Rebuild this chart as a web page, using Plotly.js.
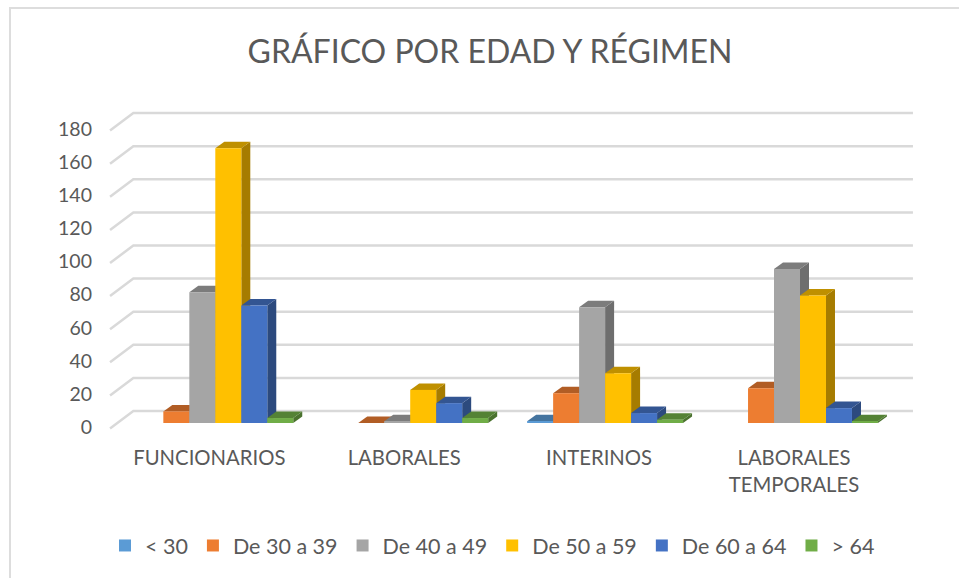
<!DOCTYPE html>
<html><head><meta charset="utf-8">
<script src="https://cdn.plot.ly/plotly-3.0.1.min.js"></script>
<style>html,body{margin:0;padding:0;background:#fff}</style></head>
<body><div id="chart" style="width:959px;height:578px"></div>
<script>
const categories = ["FUNCIONARIOS", "LABORALES", "INTERINOS", "LABORALES<br>TEMPORALES"];
const seriesNames = ["< 30", "De 30 a 39", "De 40 a 49", "De 50 a 59", "De 60 a 64", "> 64"];
const menor30 = [null, null, 1, null];
const de30a39 = [7, 0, 18, 21];
const de40a49 = [79, 1, 70, 93];
const de50a59 = [166, 20, 30, 77];
const de60a64 = [71, 12, 6, 9];
const mayor64 = [3, 3, 2, 1];
const yTicks = [0, 20, 40, 60, 80, 100, 120, 140, 160, 180];
const frontColors = ["#5B9BD5", "#ED7D31", "#A5A5A5", "#FFC000", "#4472C4", "#70AD47"];
const topColors = ["#44749F", "#B15D25", "#7C7C7C", "#BF9000", "#335592", "#548235"];
const sideColors = ["#3A6488", "#9E5321", "#6E6E6E", "#A67C00", "#2C4A7E", "#4A722E"];
const allSeries = [menor30, de30a39, de40a49, de50a59, de60a64, mayor64];

// pixel geometry of the oblique projection
const groupPx = 194.9, firstCenterPx = 215.3;   // spacing and first category in px
const L = 100, R = 930, T = 100, B = 440, Y0 = 423, PX = 1.655;
const xPerPx = 1 / groupPx, yPerPx = 1 / PX;
const xMin = (L - firstCenterPx) * xPerPx, xMax = (R - firstCenterPx) * xPerPx;
const yMin = -(B - Y0) * yPerPx, yMax = (Y0 - T) * yPerPx;
const off = (dxPx, dyPx) => [dxPx * xPerPx, -dyPx * yPerPx];
const poly = (pts) => "M" + pts.map(p => p[0] + "," + p[1]).join("L") + "Z";
const paperX = (px) => (px - L) / (R - L), paperY = (py) => (B - py) / (B - T);

const shapes = [];
// wall and floor grid: front-left -> back-left -> back-right
const [fx, fy] = off(-7.8, 5.5), [bx, by] = off(15.5, -12);
yTicks.forEach(v => {
  shapes.push({type: "path", xref: "x", yref: "y", layer: "below",
    path: "M" + (-0.5 + fx) + "," + (v + fy) + "L" + (-0.5 + bx) + "," + (v + by) + "L" + (3.5 + bx) + "," + (v + by),
    line: {color: "#D9D9D9", width: 2.5}});
});
// depth faces of the bars, painted left to right
const [dx, dy] = off(9, -6.5);
const barW = 0.8 / 6;
categories.forEach((_, c) => {
  allSeries.forEach((vals, s) => {
    const v = vals[c];
    if (v === null) return;
    const x0 = c - 0.4 + s * barW, x1 = x0 + barW;
    shapes.push({type: "path", xref: "x", yref: "y", layer: "below", line: {width: 0},
      fillcolor: sideColors[s],
      path: poly([[x1, 0], [x1 + dx, dy], [x1 + dx, v + dy], [x1, v]])});
    shapes.push({type: "path", xref: "x", yref: "y", layer: "below", line: {width: 0},
      fillcolor: topColors[s],
      path: poly([[x0, v], [x1, v], [x1 + dx, v + dy], [x0 + dx, v + dy]])});
  });
});
// chart frame: only the top and left edges show in the picture
[[paperX(9), paperY(8), paperX(959), paperY(8)], [paperX(10), paperY(8), paperX(10), paperY(578)]].forEach(l => {
  shapes.push({type: "line", xref: "paper", yref: "paper", layer: "below",
    x0: l[0], y0: l[1], x1: l[2], y1: l[3], line: {color: "#DDDDDD", width: 2}});
});

const traces = allSeries.map((vals, s) => ({
  type: "bar", name: seriesNames[s], x: [0, 1, 2, 3], y: vals,
  marker: {color: frontColors[s]}, hoverinfo: "x+y+name"
}));

const layout = {
  width: 959, height: 578, paper_bgcolor: "#fff", plot_bgcolor: "rgba(0,0,0,0)",
  font: {family: "Lato, sans-serif", color: "#595959"},
  title: {text: "GRÁFICO POR EDAD Y RÉGIMEN", font: {size: 32, color: "#595959"},
    x: 490 / 959, xanchor: "center", y: 1 - 52 / 578, yanchor: "middle"},
  margin: {l: L, r: 959 - R, t: T, b: 578 - B, pad: 0},
  barmode: "group", bargap: 0.2, bargroupgap: 0,
  xaxis: {type: "linear", range: [xMin, xMax], tickmode: "array", tickvals: [0, 1, 2, 3], ticktext: categories,
    showgrid: false, zeroline: false, showline: false, ticks: "", ticklabelshift: -6, ticklabelstandoff: 4,
    tickfont: {size: 20.3, color: "#595959"}, automargin: false},
  yaxis: {range: [yMin, yMax], tickmode: "array", tickvals: yTicks, ticktext: yTicks.map(String),
    showgrid: false, zeroline: false, showline: false, ticks: "", ticklabelshift: 4, ticklabelstandoff: 7,
    tickfont: {size: 19.5, color: "#595959"}, automargin: false},
  shapes: shapes,
  showlegend: true,
  legend: {orientation: "h", x: 105 / 959, xref: "container", y: 1 - 525 / 578, yref: "container", yanchor: "top",
    xanchor: "left", font: {size: 21.5, color: "#595959"}, traceorder: "normal", bgcolor: "rgba(0,0,0,0)"}
};
Plotly.newPlot("chart", traces, layout, {displayModeBar: false});
</script></body></html>
